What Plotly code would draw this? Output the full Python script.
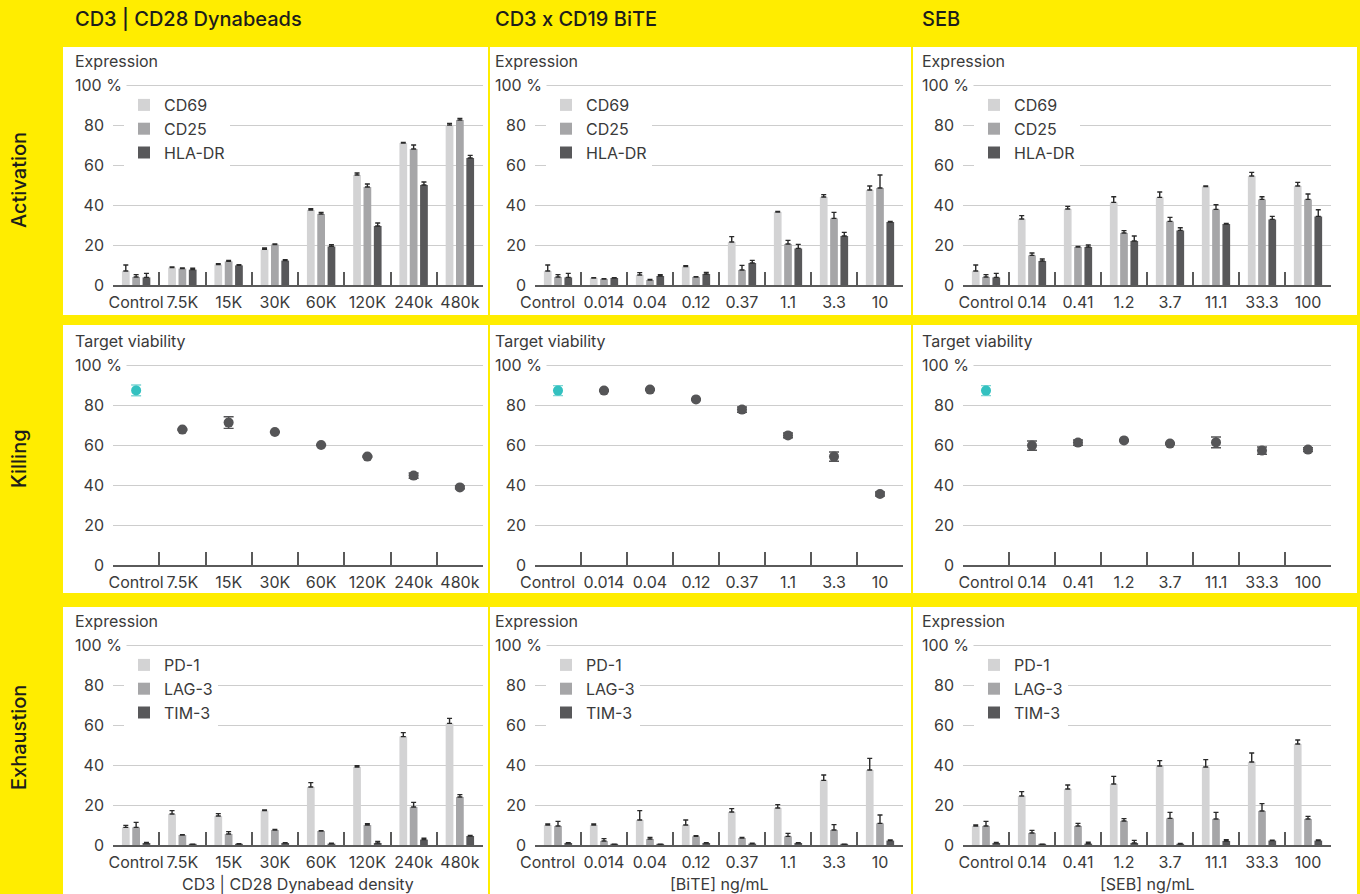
import plotly.graph_objects as go
from plotly.subplots import make_subplots

W, H = 1360, 894

# ---------------- data ----------------
dyna_labels = ["Control", "7.5K", "15K", "30K", "60K", "120K", "240k", "480k"]
bite_labels = ["Control", "0.014", "0.04", "0.12", "0.37", "1.1", "3.3", "10"]
seb_labels = ["Control", "0.14", "0.41", "1.2", "3.7", "11.1", "33.3", "100"]

# Activation (mean, upper error)
dyna_cd69 = [7, 8.7, 10.2, 17.8, 37.5, 55, 71, 80]
dyna_cd69_err = [3, 0.3, 0.5, 0.7, 0.7, 1, 0.3, 0.8]
dyna_cd25 = [4, 8.2, 11.8, 20.2, 35.5, 49, 68, 82.5]
dyna_cd25_err = [1.2, 0.3, 0.5, 0.3, 0.8, 1.5, 2, 0.8]
dyna_hla = [3.8, 7.7, 9.8, 12.2, 19.3, 29.5, 50, 63.5]
dyna_hla_err = [2, 0.7, 0.3, 0.5, 0.8, 1.5, 1.5, 1.3]

bite_cd69 = [7, 3.5, 5, 9.2, 21.5, 36.5, 44, 47.5]
bite_cd69_err = [3, 0.1, 1.2, 0.5, 2.7, 0.3, 1.2, 2]
bite_cd25 = [4, 3, 2.5, 4, 7.5, 20.5, 33.3, 48.5]
bite_cd25_err = [1.2, 0.1, 0.3, 0.2, 2.3, 1.8, 3, 6.5]
bite_hla = [3.8, 3.5, 4.5, 5.5, 11, 18.3, 24.5, 31.5]
bite_hla_err = [2, 0.1, 0.7, 0.8, 1.3, 2, 1.8, 0.3]

seb_cd69 = [7, 33, 38, 41.3, 43.8, 49.2, 54.5, 49.5]
seb_cd69_err = [3, 1.7, 1.3, 2.8, 2.7, 0.3, 1.8, 1.8]
seb_cd25 = [4, 14.8, 19, 26, 31.8, 37.8, 42.8, 42.8]
seb_cd25_err = [1.2, 1.2, 0.3, 1.2, 2, 2.3, 1.3, 2.7]
seb_hla = [3.8, 12, 19, 22, 27.3, 30.5, 32.8, 34.3]
seb_hla_err = [2, 1, 1, 2.5, 1.3, 0.3, 1.5, 3.3]

# Killing (target viability, symmetric error)
dyna_viab = [87.3, 67.7, 71.2, 66.5, 60, 54.2, 44.7, 38.8]
dyna_viab_err = [2.7, 0.3, 2.9, 0.3, 0.3, 0.3, 1.3, 0.7]
bite_viab = [87.2, 87.2, 87.7, 82.8, 77.7, 64.8, 54.2, 35.5]
bite_viab_err = [2.5, 0.3, 0.3, 0.3, 1.3, 1.2, 2.3, 1]
seb_viab = [87.2, 59.7, 61.2, 62.3, 60.7, 61.3, 57.2, 57.7]
seb_viab_err = [2.5, 2.3, 1.3, 0.3, 0.3, 2.7, 1.8, 1]

# Exhaustion (mean, upper error)
dyna_pd1 = [8.8, 15.5, 14.5, 17.2, 29, 39, 54.2, 60.8]
dyna_pd1_err = [1, 1.7, 1.2, 0.3, 2.2, 0.7, 2, 2.5]
dyna_lag3 = [8.8, 5, 5.5, 7.5, 7, 10, 19, 24]
dyna_lag3_err = [2.5, 0.2, 1.2, 0.3, 0.2, 0.7, 2.3, 1.2]
dyna_tim3 = [1, 0.3, 0.5, 1, 0.7, 1, 2.7, 4.5]
dyna_tim3_err = [0.3, 0.1, 0.1, 0.2, 0.2, 0.8, 0.7, 0.3]

bite_pd1 = [10, 10, 12.5, 10, 16.5, 18.5, 32.3, 37.5]
bite_pd1_err = [0.5, 0.5, 4.7, 2.5, 1.7, 1.7, 2.7, 5.8]
bite_lag3 = [9.5, 2, 3, 4.3, 3.5, 4.3, 7.5, 10.8]
bite_lag3_err = [2.3, 1.2, 0.8, 0.3, 0.3, 1.5, 2.7, 4.2]
bite_tim3 = [1, 0.3, 0.3, 1, 0.7, 1, 0.3, 2.2]
bite_tim3_err = [0.2, 0.1, 0.1, 0.1, 0.2, 0.1, 0.1, 0.3]

seb_pd1 = [9.5, 24.5, 28, 30.5, 39.5, 39, 41.5, 50.5]
seb_pd1_err = [0.5, 2.2, 2, 3.8, 2.7, 3.7, 4.5, 2]
seb_lag3 = [9.5, 6, 9.5, 12, 13.3, 13, 17, 13]
seb_lag3_err = [2.3, 1.3, 1.3, 1.2, 3, 3.3, 3.7, 1.3]
seb_tim3 = [1, 0.3, 0.7, 1, 0.5, 2, 2.2, 2.2]
seb_tim3_err = [0.3, 0.1, 0.7, 1.3, 0.3, 0.7, 0.2, 0.3]

col_titles = ["CD3 | CD28 Dynabeads", "CD3 x CD19 BiTE", "SEB"]
row_titles = ["Activation", "Killing", "Exhaustion"]
x_titles = ["CD3 | CD28 Dynabead density", "[BiTE] ng/mL", "[SEB] ng/mL"]
act_names = ["CD69", "CD25", "HLA-DR"]
exh_names = ["PD-1", "LAG-3", "TIM-3"]

# ---------------- style ----------------
YELLOW = "#ffed00"
C_LIGHT = "#d3d3d4"
C_MID = "#a6a6a8"
C_DARK = "#58585a"
C_TEAL = "#33c1c0"
TXT = "#3a3a3a"
FONT = "Inter"
YMAX = 100.6

def fx(p):
    return p / W

def fy(p):
    return 1 - p / H

plot_l = [113, 535, 963]
plot_r = [483, 903, 1331]
y100 = [85, 365, 645]
plot_b = [285, 565, 845]
plot_t = [b - (b - t) * YMAX / 100 for t, b in zip(y100, plot_b)]
panel_x = [(63, 488), (490, 911), (913, 1357)]
panel_y = [(47, 315), (325, 593), (607, 894)]
text_l = [73, 493, 920]

fig = make_subplots(rows=3, cols=3)

labels_by_col = [dyna_labels, bite_labels, seb_labels]
# In the BiTE column the "Control" label sits a little left of its slot (as in the original);
# it is drawn as a separate text shifted along the axis.
ticktext_by_col = [dyna_labels, [""] + bite_labels[1:], seb_labels]
act = [
    [(dyna_cd69, dyna_cd69_err), (dyna_cd25, dyna_cd25_err), (dyna_hla, dyna_hla_err)],
    [(bite_cd69, bite_cd69_err), (bite_cd25, bite_cd25_err), (bite_hla, bite_hla_err)],
    [(seb_cd69, seb_cd69_err), (seb_cd25, seb_cd25_err), (seb_hla, seb_hla_err)],
]
exh = [
    [(dyna_pd1, dyna_pd1_err), (dyna_lag3, dyna_lag3_err), (dyna_tim3, dyna_tim3_err)],
    [(bite_pd1, bite_pd1_err), (bite_lag3, bite_lag3_err), (bite_tim3, bite_tim3_err)],
    [(seb_pd1, seb_pd1_err), (seb_lag3, seb_lag3_err), (seb_tim3, seb_tim3_err)],
]
viab = [(dyna_viab, dyna_viab_err), (bite_viab, bite_viab_err), (seb_viab, seb_viab_err)]
bar_colors = [C_LIGHT, C_MID, C_DARK]

legend_ids = {}
lid = 1
for row, groups, names in [(1, act, act_names), (3, exh, exh_names)]:
    for c in range(3):
        key = "legend" if lid == 1 else f"legend{lid}"
        legend_ids[(row, c)] = key
        lid += 1
        for k in range(3):
            vals, errs = groups[c][k]
            fig.add_trace(
                go.Bar(
                    x=labels_by_col[c], y=vals, name=names[k],
                    marker=dict(color=bar_colors[k], line=dict(width=0)),
                    error_y=dict(type="data", array=errs, arrayminus=[0] * len(errs),
                                 symmetric=False, color="#2a2a2a", thickness=1.4, width=2.5),
                    legend=key, legendgroup=f"{key}_{k}", showlegend=True,
                ),
                row=row, col=c + 1,
            )

for c in range(3):
    vals, errs = viab[c]
    labs = labels_by_col[c]
    fig.add_trace(
        go.Scatter(
            x=labs[1:], y=vals[1:], mode="markers",
            marker=dict(color="#555557", size=10),
            error_y=dict(type="data", array=errs[1:], color="#555557", thickness=1.4, width=5),
            showlegend=False,
        ),
        row=2, col=c + 1,
    )
    fig.add_trace(
        go.Scatter(
            x=labs[:1], y=vals[:1], mode="markers",
            marker=dict(color=C_TEAL, size=10),
            error_y=dict(type="data", array=errs[:1], color="#7fd6d5", thickness=1.4, width=5),
            showlegend=False,
        ),
        row=2, col=c + 1,
    )

shapes = []
annotations = []
for r in range(3):
    for c in range(3):
        x0, x1 = panel_x[c]
        y0, y1 = panel_y[r]
        shapes.append(dict(type="rect", xref="paper", yref="paper", layer="below",
                           x0=fx(x0), x1=fx(x1), y0=fy(y1), y1=fy(y0),
                           fillcolor="white", line=dict(width=0)))
        fig.update_xaxes(
            domain=[fx(plot_l[c]), fx(plot_r[c])], row=r + 1, col=c + 1,
            type="category", categoryorder="array", categoryarray=labels_by_col[c],
            tickvals=labels_by_col[c], ticktext=ticktext_by_col[c],
            range=[-0.5, 7.5], showgrid=False, showline=True, linecolor="#5a5a5a", linewidth=1.5,
            ticks="inside", tickson="boundaries", ticklen=13, tickwidth=1.5, tickcolor="#5a5a5a",
            tickfont=dict(family=FONT, size=16, color=TXT), ticklabelstandoff=2, tickangle=0,
            zeroline=False, automargin=False,
        )
        fig.update_yaxes(
            domain=[fy(plot_b[r]), fy(plot_t[r])], row=r + 1, col=c + 1,
            range=[0, YMAX], tickvals=[0, 20, 40, 60, 80, 100],
            ticktext=["0", "20", "40", "60", "80", ""],
            showgrid=True, gridcolor="#cdcdcd", gridwidth=1.2, zeroline=False, showline=False,
            tickfont=dict(family=FONT, size=16, color=TXT), ticklabelstandoff=8,
            automargin=False,
        )
        # y title
        annotations.append(dict(
            text="Expression" if r != 1 else "Target viability",
            xref="paper", yref="paper", x=fx(text_l[c]), y=fy(y100[r] - 24),
            xanchor="left", yanchor="middle", showarrow=False,
            font=dict(family=FONT, size=16, color=TXT)))
        annotations.append(dict(
            text="100 %", xref="paper", yref="paper", x=fx(text_l[c] - 3), y=fy(y100[r]),
            xanchor="left", yanchor="middle", showarrow=False, bgcolor="white", borderpad=4,
            font=dict(family=FONT, size=16, color=TXT)))

    # BiTE column "Control" category label
    axis_num = r * 3 + 2
    annotations.append(dict(
        text=bite_labels[0], xref=f"x{axis_num}", yref="paper", x=bite_labels[0], xshift=-10.5,
        y=fy(plot_b[r] + 16.5), xanchor="center", yanchor="middle", showarrow=False,
        font=dict(family=FONT, size=16, color=TXT)))

for c in range(3):
    annotations.append(dict(
        text=x_titles[c], xref="paper", yref="paper", x=fx((plot_l[c] + plot_r[c]) / 2), y=fy(884),
        xanchor="center", yanchor="middle", showarrow=False,
        font=dict(family=FONT, size=16, color=TXT)))
    annotations.append(dict(
        text=col_titles[c], xref="paper", yref="paper", x=fx(text_l[c]), y=fy(19),
        xanchor="left", yanchor="middle", showarrow=False,
        font=dict(family=FONT, size=20, color="#1d1d1b", weight=500)))

row_centers = [180, 459, 738]
for r in range(3):
    annotations.append(dict(
        text=row_titles[r], xref="paper", yref="paper", x=fx(19), y=fy(row_centers[r]),
        xanchor="center", yanchor="middle", showarrow=False, textangle=-90,
        font=dict(family=FONT, size=20, color="#1d1d1b", weight=500)))

legend_layout = {}
for (row, c), key in legend_ids.items():
    r = row - 1
    legend_layout[key] = dict(
        x=fx(plot_l[c] + 11), y=fy(y100[r] + 3), xanchor="left", yanchor="top",
        bgcolor="white", borderwidth=0, tracegroupgap=3,
        font=dict(family=FONT, size=16, color=TXT), traceorder="normal",
    )

fig.update_layout(
    width=W, height=H, margin=dict(l=0, r=0, t=0, b=0, autoexpand=False),
    paper_bgcolor=YELLOW, plot_bgcolor="white",
    barmode="group", bargap=0.33, bargroupgap=0.25,
    shapes=shapes, annotations=annotations,
    font=dict(family=FONT, size=16, color=TXT),
    **legend_layout,
)

fig.write_html(
    "out.html",
    config={"displayModeBar": False},
    post_script="document.body.style.margin='0px';document.body.style.overflow='hidden';",
)
